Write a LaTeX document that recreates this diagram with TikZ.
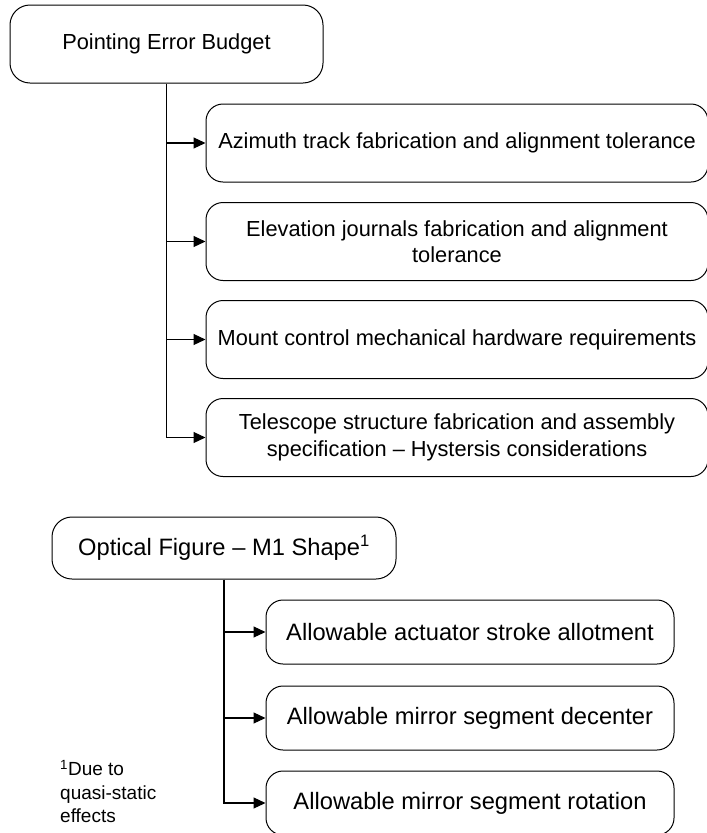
\documentclass[tikz,border=0pt]{standalone}
\usepackage{fontspec}
\setmainfont{Liberation Sans}
\usetikzlibrary{arrows.meta}
\begin{document}
\begin{tikzpicture}[x=1pt,y=-1pt,
  topbox/.style={draw=black, line width=1pt, rounded corners=20pt, align=center,
    font=\fontsize{21.8}{26.5}\selectfont, inner sep=0pt},
  subbox/.style={draw=black, line width=1pt, rounded corners=17pt, align=center,
    font=\fontsize{21.8}{26.5}\selectfont, inner sep=0pt,
    minimum width=502pt, minimum height=78pt},
  lowbox/.style={draw=black, line width=1pt, rounded corners=17pt, align=center,
    font=\fontsize{23.7}{28}\selectfont, inner sep=0pt,
    minimum width=408pt, minimum height=64pt},
  link/.style={line width=1.1pt, -{Triangle[length=12pt,width=11pt]}}]
\useasboundingbox (0,0) rectangle (707,833);

% Pointing error budget branch
\node[topbox, minimum width=313pt, minimum height=78pt] (peb) at (166.5,44) {Pointing Error Budget};
\node[subbox] (az) at (457,143) {Azimuth track fabrication and alignment tolerance};
\node[subbox] (el) at (457,241.5) {Elevation journals fabrication and alignment\\tolerance};
\node[subbox] (mc) at (457,339.5) {Mount control mechanical hardware requirements};
\node[subbox] (ts) at (457,437.5) {Telescope structure fabrication and assembly\\specification – Hystersis considerations};

\draw[link] (peb.south) |- (ts.west);
\draw[link] (peb.south |- az.west) -- (az.west);
\draw[link] (peb.south |- el.west) -- (el.west);
\draw[link] (peb.south |- mc.west) -- (mc.west);

% Optical figure branch
\node[topbox, font=\fontsize{23.7}{28}\selectfont, minimum width=344pt, minimum height=62pt] (of) at (224,548) {Optical Figure – M1 Shape\textsuperscript{1}};
\node[lowbox] (as) at (470,632) {Allowable actuator stroke allotment};
\node[lowbox] (md) at (470,718) {Allowable mirror segment decenter};
\node[lowbox] (mr) at (470,803) {Allowable mirror segment rotation};

\draw[link] (of.south) |- (mr.west);
\draw[link] (of.south |- as.west) -- (as.west);
\draw[link] (of.south |- md.west) -- (md.west);

% Footnote
\node[anchor=north west, align=left, inner sep=0pt, font=\fontsize{19}{23.5}\selectfont] (fn) at (60,760)
  {\textsuperscript{1}Due to\\quasi-static\\effects};
\end{tikzpicture}
\end{document}
